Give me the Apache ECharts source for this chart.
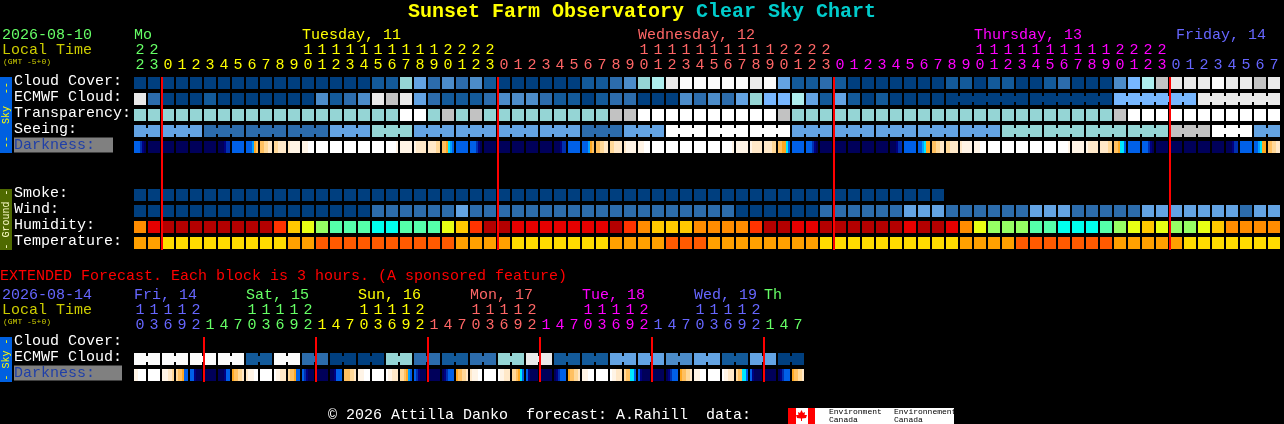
<!DOCTYPE html>
<html><head><meta charset="utf-8">
<style>html,body{margin:0;padding:0;background:#000}#c{width:1284px;height:424px}</style>
<script src="https://cdn.jsdelivr.net/npm/echarts@6/dist/echarts.min.js"></script>
</head><body><div id="c"></div>
<script>
// ---------- data ----------
const mainHours = ['22','23','0','1','2','3','4','5','6','7','8','9','10','11','12','13','14','15','16','17','18','19','20','21','22','23',
 '0','1','2','3','4','5','6','7','8','9','10','11','12','13','14','15','16','17','18','19','20','21','22','23',
 '0','1','2','3','4','5','6','7','8','9','10','11','12','13','14','15','16','17','18','19','20','21','22','23',
 '0','1','2','3','4','5','6','7'];
const mainHourDays = [0,0,1,1,1,1,1,1,1,1,1,1,1,1,1,1,1,1,1,1,1,1,1,1,1,1,
 2,2,2,2,2,2,2,2,2,2,2,2,2,2,2,2,2,2,2,2,2,2,2,2,
 3,3,3,3,3,3,3,3,3,3,3,3,3,3,3,3,3,3,3,3,3,3,3,3,
 4,4,4,4,4,4,4,4];
const dayColors = ['#66ff66','#ffff00','#ff6666','#ff00ff','#6666ff'];
const mainDayLabels = [[0,'Mo',0,1],[12,'Tuesday, 11',1,1],[36,'Wednesday, 12',2,1],[60,'Thursday, 13',3,1],[74,'Friday, 14',4,7]];
const mainMidnights = [2,26,50,74];

const extHours = ['10','13','16','19','22','1','4','7','10','13','16','19','22','1','4','7','10','13','16','19','22','1','4','7',
 '10','13','16','19','22','1','4','7','10','13','16','19','22','1','4','7','10','13','16','19','22','1','4','7'];
const extHourDays = [4,4,4,4,4,0,0,0,0,0,0,0,0,1,1,1,1,1,1,1,1,2,2,2,2,2,2,2,2,3,3,3,3,3,3,3,3,4,4,4,4,4,4,4,4,0,0,0];
const extDayLabels = [[0,'Fri, 14',4,1],[8,'Sat, 15',0,1],[16,'Sun, 16',1,1],[24,'Mon, 17',2,1],[32,'Tue, 18',3,1],[40,'Wed, 19',4,1],[45,'Th',0,1]];
const extMidnights = [5,13,21,29,37,45];

const skyRows = ['Cloud Cover:','ECMWF Cloud:','Transparency:','Seeing:','Darkness:'];
const groundRows = ['Smoke:','Wind:','Humidity:','Temperature:'];
const extRows = ['Cloud Cover:','ECMWF Cloud:','Darkness:'];

const cloudPalette = ['#003f7f','#135a9a','#2c6cac','#4c8cc9','#63a3e3','#77b7ff','#95d5d5','#aeeeee','#c2c2c2','#eaeaea','#fbfbfb','#ffffff'];
const cloudCover = [0,0,0,0,0,0,0,0,0,0,0,0,0,0,0,0,0,1,1,6,4,2,3,2,3,1,0,0,0,0,0,0,1,1,2,3,6,7,9,10,10,10,10,10,9,10,4,1,1,2,1,0,
 0,0,0,0,0,0,1,1,0,1,1,0,0,1,2,0,0,0,3,5,7,8,9,9,9,10,9,9,8,9];
const ecmwfCloud = [9,2,0,0,0,1,0,0,0,0,0,0,0,3,1,2,3,9,8,9,4,2,1,1,1,2,3,3,3,2,1,1,0,1,2,2,0,0,0,3,2,3,2,4,6,5,5,7,4,1,4,1,
 0,1,0,0,0,0,0,0,0,0,0,0,0,0,0,0,0,0,5,5,5,5,5,5,9,9,9,9,9,9];
const transparency = [6,6,6,6,6,6,6,6,6,6,6,6,6,6,6,6,6,6,6,11,11,6,8,6,8,6,6,6,6,6,6,6,6,6,8,8,11,11,11,11,11,11,11,11,11,11,8,6,6,6,6,6,
 6,6,6,6,6,6,6,6,6,6,6,6,6,6,6,6,6,6,8,11,11,11,11,11,11,11,11,11,11,11];
const seeing = [4,4,4,4,4,2,2,2,2,2,2,2,2,2,4,4,4,6,6,6,4,4,4,4,4,4,4,4,4,4,4,4,2,2,2,4,4,4,11,11,11,11,11,11,11,11,11,4,4,4,4,4,4,
 4,4,4,4,4,4,4,4,4,6,6,6,6,6,6,6,6,6,6,6,6,8,8,8,11,11,11,4,4];
const smoke = [0,0,0,0,0,0,0,0,0,0,0,0,0,0,0,0,0,0,0,0,0,0,0,0,0,0,0,0,0,0,0,0,0,0,0,0,0,0,0,0,0,0,0,0,0,0,0,0,0,0,0,0,0,0,0,0,0,0];
const wind = [0,0,0,0,0,0,0,0,0,0,0,0,0,0,0,0,0,2,2,2,2,2,2,4,2,2,2,2,2,2,2,2,2,2,2,2,2,2,2,2,2,2,2,0,0,0,0,0,0,2,2,2,
 2,2,2,4,4,4,2,2,2,2,2,2,4,4,4,2,2,2,2,2,4,4,4,4,4,4,4,2,4,4];
const humidityPalette = ['#b40000','#e60000','#ff3300','#ff8c00','#ffc800','#e8ff14','#96ff64','#55ffaa','#00ffee'];
const humidity = [3,1,0,0,0,0,0,0,0,0,2,4,5,6,7,7,7,8,8,7,7,7,5,4,2,0,0,1,1,1,1,1,1,1,0,2,3,4,4,4,3,3,3,3,2,0,0,1,1,0,0,0,
 0,0,0,1,0,0,1,3,5,6,6,6,7,7,8,8,8,7,6,5,4,5,6,6,5,4,3,3,3,3];
const tempPalette = ['#ff5a00','#ffa000','#ffdc00'];
const temperature = [1,1,2,2,2,2,2,2,2,2,2,1,1,0,0,0,0,0,0,0,0,0,0,1,1,1,1,2,2,2,2,2,2,2,1,1,1,1,0,0,0,1,1,1,1,1,1,1,1,2,2,2,
 2,2,2,2,2,2,2,1,1,1,1,0,0,0,0,0,0,0,1,1,1,1,1,2,2,2,2,2,2,2];
const darkPalette = {'0':'#00005a','1':'#000080','2':'#0030b0','3':'#0060e8','4':'#00a0ff','5':'#00e8ff','6':'#ffa820','7':'#ffc060','8':'#ffd898','9':'#ffe8c8','a':'#fff4e6','b':'#ffffff'};
const darkness = ['333210','000000','000000','000000','000000','000000','000122','333333','333467','778899','889999','9aaaaa','aaabbb','bbbbbb','bbbbbb','bbbbbb','bbbbbb','bbbbbb','bbbbba','aaaaaa','a99999','999988','776543',
 '333333','333210','000000','000000','000000','000000','000000','000122','333333','333467','778899','889999','9aaaaa','aaabbb','bbbbbb','bbbbbb','bbbbbb','bbbbbb','bbbbbb','bbbbba','aaaaaa','a99999','999988','776653',
 '333333','333210','000000','000000','000000','000000','000000','000122','333333','334566','778899','889999','9aaaaa','aaabbb','bbbbbb','bbbbbb','bbbbbb','bbbbbb','bbbbbb','bbbbba','aaaaaa','a99999','999988','776553',
 '333333','333210','000000','000000','000000','000000','000000','000122','333333','334566','778899'];
const extEcmwfPairs = [10,10,10,10,1,10,2,0,0,6,2,1,2,6,9,1,1,4,4,3,4,1,4,0];
const extDarkness = ['aabbbb','bbbbbb','aaa998','877633','331000','000000','000133','677889','9aaabb','bbbbbb','baa999','877633','321000','000000','001333','777889',
 'aaabbb','bbbbbb','baa999','887643','321000','000000','012333','677889','9aaabb','bbbbbb','baa999','887653','310000','000000','012333','677889',
 'aaabbb','bbbbbb','baa999','877553','310000','000000','012333','677889','aaabbb','bbbbbb','baa999','877553','310000','000000','012333','677889'];

// ---------- helpers ----------
const FONT = '"Liberation Mono"';
const CELL_GAP_X = 2, CELL_GAP_Y = 4, NECK = 6;
const extEcmwf = extEcmwfPairs.flatMap(v => [v, v]);
// link(c) says whether column c joins column c+1 in one forecast block
const seeingLink = c => (c + 1) % 3 !== 2 && seeing[c] === seeing[c + 1];
const ecmwfLink = c => c >= 58 && (c - 58) % 6 !== 5 && ecmwfCloud[c] === ecmwfCloud[c + 1];
const extLink = c => c % 2 === 0;

function blockSeries(xi, row, values, palette, link) {
  return {
    type: 'custom', coordinateSystem: 'cartesian2d', xAxisIndex: xi, yAxisIndex: xi, z: 2, silent: true,
    data: values.map((v, c) => [c, row, v]),
    renderItem(p, api) {
      const c = api.value(0), pt = api.coord([c, api.value(1)]), s = api.size([1, 1]);
      const w = s[0] - CELL_GAP_X, h = s[1] - CELL_GAP_Y, fill = palette[api.value(2)];
      const children = [{ type: 'rect', shape: { x: pt[0] - w / 2, y: pt[1] - h / 2, width: w, height: h }, style: { fill } }];
      if (link && link(c)) children.push({ type: 'rect', shape: { x: pt[0] + w / 2, y: pt[1] - NECK / 2, width: CELL_GAP_X, height: NECK }, style: { fill } });
      return { type: 'group', children };
    }
  };
}
function darkSeries(xi, row, values) {
  return {
    type: 'custom', coordinateSystem: 'cartesian2d', xAxisIndex: xi, yAxisIndex: xi, z: 2, silent: true,
    data: values.map((v, c) => [c, row]),
    renderItem(p, api) {
      const c = api.value(0), pt = api.coord([c, api.value(1)]), s = api.size([1, 1]);
      const w = s[0] - CELL_GAP_X, h = s[1] - CELL_GAP_Y, strip = values[c], n = strip.length;
      return { type: 'group', children: strip.split('').map((k, i) => ({
        type: 'rect', shape: { x: pt[0] - w / 2 + i * w / n, y: pt[1] - h / 2, width: w / n, height: h }, style: { fill: darkPalette[k] }
      })) };
    }
  };
}
function lineSeries(xi, cols, top, len) {
  return {
    type: 'custom', coordinateSystem: 'cartesian2d', xAxisIndex: xi, yAxisIndex: xi, z: 6, silent: true,
    data: cols.map(c => [c, 0]),
    renderItem(p, api) {
      const pt = api.coord([api.value(0), 0]), s = api.size([1, 1]);
      return { type: 'rect', shape: { x: pt[0] - s[0] / 2, y: top, width: 2, height: len }, style: { fill: '#ff0000' } };
    }
  };
}
function dayLabelSeries(xi, labels, y) {
  return {
    type: 'custom', coordinateSystem: 'cartesian2d', xAxisIndex: xi, yAxisIndex: xi, z: 3, silent: true,
    data: labels.map((l, i) => [l[0], 0, i]),
    renderItem(p, api) {
      const l = labels[api.value(2)], pt = api.coord([api.value(0), 0]), s = api.size([1, 1]);
      return { type: 'text', style: { text: l[1], x: pt[0] - s[0] / 2 + l[3], y, fill: dayColors[l[2]], font: '15px ' + FONT, textAlign: 'left', textVerticalAlign: 'middle' } };
    }
  };
}
function xAxis(hours, days, gridIndex) {
  return {
    type: 'category', gridIndex, position: 'top', data: hours, boundaryGap: true,
    axisLine: { show: false }, axisTick: { show: false }, splitLine: { show: false },
    axisLabel: gridIndex === 1 ? { show: false } : {
      show: true, interval: 0, margin: 2, fontFamily: FONT, fontSize: 15, lineHeight: 15, hideOverlap: false,
      color: (v, i) => dayColors[days[i]],
      formatter: v => (v.length > 1 ? v[0] : ' ') + '\n' + v[v.length - 1]
    }
  };
}
function yAxis(rows, gridIndex, darkW) {
  return {
    type: 'category', gridIndex, inverse: true, data: rows,
    axisLine: { show: false }, axisTick: { show: false }, splitLine: { show: false },
    axisLabel: {
      show: true, interval: 0, margin: 119, align: 'left', color: '#ffffff', fontFamily: FONT, fontSize: 15,
      padding: [0, 0, 4, 0],
      formatter: v => v === 'Darkness:' ? '{d|' + v + '}' : v,
      rich: { d: { color: '#1f3fa8', backgroundColor: '#808080', width: darkW, height: 15, fontFamily: FONT, fontSize: 15, lineHeight: 15 } }
    }
  };
}
const txt = (text, x, y, fill, font, extra) => Object.assign({ type: 'text', x, y, silent: true, style: Object.assign({ text, fill, font, textAlign: 'left', textVerticalAlign: 'middle' }, extra || {}) });
const vtxt = (text, y, fill) => ({ type: 'text', x: 6, y, rotation: Math.PI / 2, silent: true, style: { text, fill, font: '10px ' + FONT, textAlign: 'center', textVerticalAlign: 'middle' } });
const box = (x, y, width, height, fill) => ({ type: 'rect', silent: true, shape: { x, y, width, height }, style: { fill } });

const F15 = '15px ' + FONT, F20 = 'bold 20px ' + FONT, F8 = '8px ' + FONT;
const graphics = [
  txt('Sunset Farm Observatory', 408, 12, '#ffff00', F20),
  txt('Clear Sky Chart', 696, 12, '#00cccc', F20),
  txt('2026-08-10', 2, 35, '#66ff66', F15),
  txt('Local Time', 2, 50, '#cccc00', F15),
  txt('(GMT -5+0)', 3, 62, '#cccc00', F8),
  box(0, 77, 12, 76, '#0060e0'), vtxt('--  Sky  --', 115, '#ffff00'),
  box(0, 189, 12, 61, '#4f6a00'), vtxt('- Ground -', 219.5, '#ffffcc'),
  txt('EXTENDED Forecast. Each block is 3 hours. (A sponsored feature)', 0, 276, '#ff0000', F15),
  txt('2026-08-14', 2, 295, '#6666ff', F15),
  txt('Local Time', 2, 310, '#cccc00', F15),
  txt('(GMT -5+0)', 3, 322, '#cccc00', F8),
  box(0, 337, 12, 45, '#0060e0'), vtxt('- Sky -', 359.5, '#ffff00'),
  txt('\u00a9 2026 Attilla Danko  forecast: A.Rahill  data:', 328, 415, '#ffffff', F15),
  box(788, 408, 166, 16, '#ffffff'),
  box(788, 408, 8, 16, '#ff0000'), box(808, 408, 7, 16, '#ff0000'),
  { type: 'polygon', silent: true, shape: { points: [[801.5,410],[803,413],[805,412],[804.5,415],[807,415],[806,418],[802,418.5],[802,421],[801,421],[801,418.5],[797,418],[796,415],[798.5,415],[798,412],[800,413]] }, style: { fill: '#ff0000' } },
  txt('Environment', 829, 412, '#000000', F8), txt('Canada', 829, 420, '#000000', F8),
  txt('Environnement', 894, 412, '#000000', F8), txt('Canada', 894, 420, '#000000', F8)
];

const chart = echarts.init(document.getElementById('c'), null, { renderer: 'canvas', width: 1284, height: 424 });
chart.setOption({
  backgroundColor: '#000000', animation: false, tooltip: { show: false }, legend: { show: false },
  grid: [
    { left: 133, top: 75, width: 1148, height: 80 },
    { left: 133, top: 187, width: 1148, height: 64 },
    { left: 133, top: 335, width: 672, height: 48 }
  ],
  xAxis: [xAxis(mainHours, mainHourDays, 0), xAxis(mainHours, mainHourDays, 1), xAxis(extHours, extHourDays, 2)],
  yAxis: [yAxis(skyRows, 0, 99), yAxis(groundRows, 1, 99), yAxis(extRows, 2, 108)],
  series: [
    blockSeries(0, 0, cloudCover, cloudPalette),
    blockSeries(0, 1, ecmwfCloud, cloudPalette, ecmwfLink),
    blockSeries(0, 2, transparency, cloudPalette),
    blockSeries(0, 3, seeing, cloudPalette, seeingLink),
    darkSeries(0, 4, darkness),
    blockSeries(1, 0, smoke, cloudPalette),
    blockSeries(1, 1, wind, cloudPalette),
    blockSeries(1, 2, humidity, humidityPalette),
    blockSeries(1, 3, temperature, tempPalette),
    blockSeries(2, 1, extEcmwf, cloudPalette, extLink),
    darkSeries(2, 2, extDarkness),
    lineSeries(0, mainMidnights, 77, 173),
    lineSeries(2, extMidnights, 337, 45),
    dayLabelSeries(0, mainDayLabels, 35),
    dayLabelSeries(2, extDayLabels, 295)
  ],
  graphic: { elements: graphics }
});
</script></body></html>
